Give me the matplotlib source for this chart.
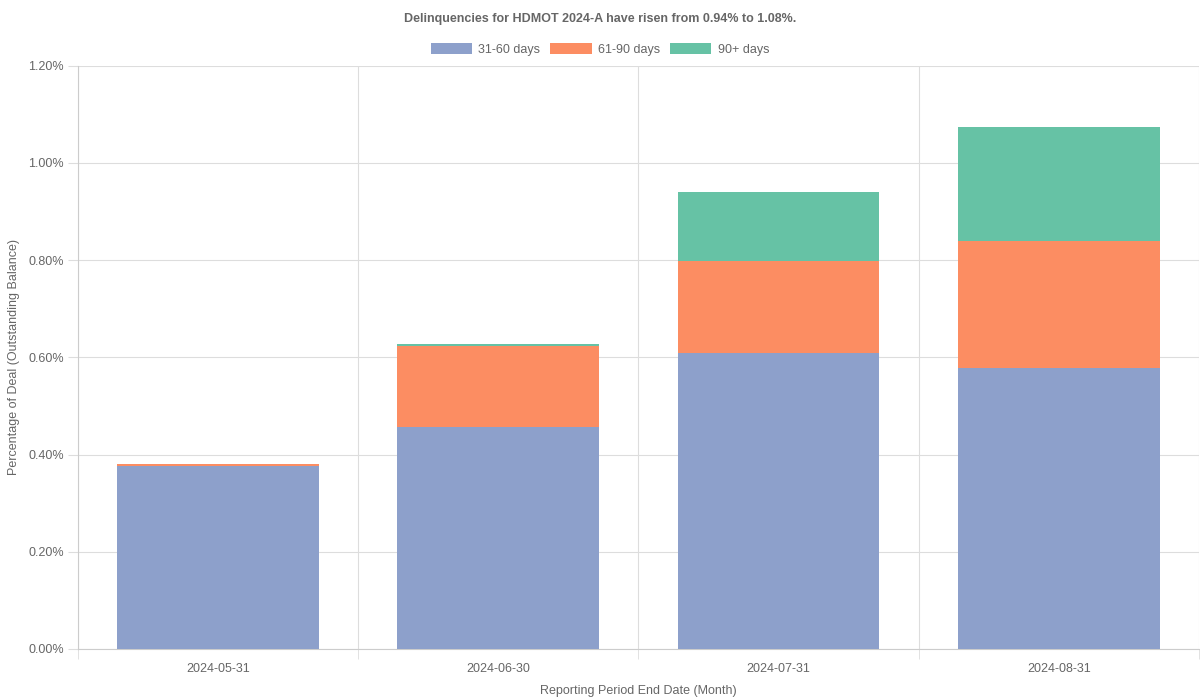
import numpy as np
import matplotlib.pyplot as plt
from matplotlib.ticker import FuncFormatter, FixedLocator
from matplotlib.patches import Patch

plt.rcParams['font.family'] = ['Liberation Sans', 'DejaVu Sans']

dates = ['2024-05-31', '2024-06-30', '2024-07-31', '2024-08-31']
d31_60 = [0.376, 0.456, 0.609, 0.579]
d61_90 = [0.004, 0.168, 0.190, 0.261]
d90p = [0.000, 0.004, 0.141, 0.235]

colors = ['#8da0cb', '#fc8d62', '#66c2a5']
labels = ['31-60 days', '61-90 days', '90+ days']
grid_c = '#dddddd'
text_c = '#666666'

fig = plt.figure(figsize=(12, 7), dpi=100)
ax = fig.add_axes([0.065, 0.073, 0.934, 0.833])

x = np.arange(len(dates))
w = 0.72
b1 = np.array(d31_60)
b2 = b1 + np.array(d61_90)
ax.bar(x, d31_60, w, color=colors[0], zorder=3)
ax.bar(x, d61_90, w, bottom=b1, color=colors[1], zorder=3)
ax.bar(x, d90p, w, bottom=b2, color=colors[2], zorder=3)

ax.set_xlim(-0.5, 3.5)
ax.set_ylim(0, 1.2)
ax.set_yticks(np.arange(0, 1.21, 0.2))
ax.yaxis.set_major_formatter(FuncFormatter(lambda v, p: f'{v:.2f}%'))
ax.set_xticks(x)
ax.set_xticklabels(dates)
ax.xaxis.set_minor_locator(FixedLocator([-0.5, 0.5, 1.5, 2.5, 3.5]))
ax.tick_params(axis='x', which='major', length=0, pad=10, labelsize=9, colors=text_c)
ax.tick_params(axis='x', which='minor', length=7, color=grid_c)
ax.tick_params(axis='y', length=7, color=grid_c, labelsize=9, labelcolor=text_c, pad=3)

ax.grid(axis='y', color=grid_c, linewidth=0.8, zorder=0)
ax.grid(axis='x', which='minor', color=grid_c, linewidth=0.8, zorder=0)
for s in ['top', 'right']:
    ax.spines[s].set_visible(False)
for s in ['left', 'bottom']:
    ax.spines[s].set_color('#cccccc')
    ax.spines[s].set_linewidth(0.8)

ax.set_xlabel('Reporting Period End Date (Month)', color=text_c, fontsize=9, labelpad=7)
ax.set_ylabel('Percentage of Deal (Outstanding Balance)', color=text_c, fontsize=9, labelpad=6)

fig.suptitle('Delinquencies for HDMOT 2024-A have risen from 0.94% to 1.08%.',
             x=0.5, y=0.981, fontsize=9, fontweight='bold', color=text_c)
handles = [Patch(facecolor=c, label=l) for c, l in zip(colors, labels)]
fig.legend(handles=handles, loc='center', bbox_to_anchor=(0.5, 0.929), ncol=3,
           frameon=False, fontsize=9, labelcolor=text_c, handlelength=3.3,
           handleheight=0.9, columnspacing=0.8, handletextpad=0.5)

fig.savefig('out.png')
